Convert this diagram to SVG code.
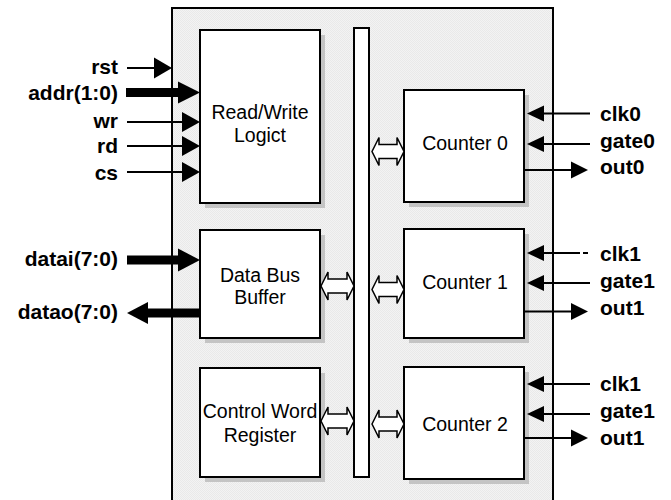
<svg xmlns="http://www.w3.org/2000/svg" width="671" height="500" viewBox="0 0 671 500">
<defs>
<pattern id="dither" width="2" height="2" patternUnits="userSpaceOnUse">
<rect width="2" height="2" fill="#f3f3f3"/>
<rect width="1" height="1" fill="#e9e9e9"/>
<rect x="1" y="1" width="1" height="1" fill="#e9e9e9"/>
</pattern>
<style>
.blk{fill:#fff;stroke:#000;stroke-width:2}
.shd{fill:#c4c4c4}
.t{font-family:"Liberation Sans",Arial,sans-serif;font-size:19.5px;fill:#000;text-anchor:middle}
.lbl{font-family:"Liberation Sans",Arial,sans-serif;font-size:21px;font-weight:bold;fill:#000}
.l{text-anchor:end}
.w{stroke:#000;stroke-width:2;fill:none}
.b{stroke:#000;stroke-width:9;fill:none}
.h{fill:#000}
.dbl{fill:#fff;stroke:#000;stroke-width:1.5;stroke-linejoin:miter}
</style>
</defs>
<rect width="671" height="500" fill="#fff"/>
<g id="chip">
<rect x="172" y="8" width="381" height="510" fill="url(#dither)" stroke="#000" stroke-width="2"/>
</g>
<g id="rw">
<rect class="shd" x="205" y="35" width="120" height="173"/>
<rect class="blk" x="200" y="30" width="120" height="173"/>
<text class="t" x="260" y="119">Read/Write</text>
<text class="t" x="260" y="141.5">Logict</text>
</g>
<g id="dbb">
<rect class="shd" x="205" y="235" width="120" height="108"/>
<rect class="blk" x="200" y="230" width="120" height="108"/>
<text class="t" x="260" y="281.5">Data Bus</text>
<text class="t" x="260" y="303.5">Buffer</text>
</g>
<g id="cwr">
<rect class="shd" x="205" y="373" width="120" height="109"/>
<rect class="blk" x="200" y="368" width="120" height="109"/>
<text class="t" x="260" y="418">Control Word</text>
<text class="t" x="260" y="441.5">Register</text>
</g>
<g id="bus">
<rect class="blk" x="354" y="28" width="15" height="449"/>
</g>
<g id="c0">
<rect class="shd" x="409" y="95" width="120" height="112"/>
<rect class="blk" x="404" y="90" width="120" height="112"/>
<text class="t" x="465" y="150">Counter 0</text>
</g>
<g id="c1">
<rect class="shd" x="409" y="234" width="120" height="109"/>
<rect class="blk" x="404" y="229" width="120" height="109"/>
<text class="t" x="465" y="289">Counter 1</text>
</g>
<g id="c2">
<rect class="shd" x="409" y="372" width="120" height="112"/>
<rect class="blk" x="404" y="367" width="120" height="112"/>
<text class="t" x="465" y="431">Counter 2</text>
</g>
<g id="connectors">
<!-- left inputs -->
<line class="w" x1="127" y1="68" x2="156" y2="68"/>
<polygon class="h" points="154,57.5 172,68 154,78.5"/>
<line class="b" x1="126" y1="92.5" x2="180" y2="92.5"/>
<polygon class="h" points="178,81.5 200,92.5 178,103.5"/>
<line class="w" x1="127" y1="122" x2="184" y2="122"/>
<polygon class="h" points="182,112 200,122 182,132"/>
<line class="w" x1="127" y1="146" x2="184" y2="146"/>
<polygon class="h" points="182,136 200,146 182,156"/>
<line class="w" x1="127" y1="172" x2="184" y2="172"/>
<polygon class="h" points="182,162 200,172 182,182"/>
<line class="b" x1="127" y1="260" x2="180" y2="260"/>
<polygon class="h" points="178,248.5 200,260 178,271.5"/>
<line class="b" x1="146" y1="313" x2="200" y2="313"/>
<polygon class="h" points="148,302 127,313 148,324"/>
<!-- bus double arrows -->
<path class="dbl" d="M321,286 L328,272 L328,279 L347,279 L347,272 L354,286 L347,300 L347,293 L328,293 L328,300 Z"/>
<path class="dbl" d="M321,421 L328,407 L328,414 L347,414 L347,407 L354,421 L347,435 L347,428 L328,428 L328,435 Z"/>
<path class="dbl" d="M372,151.5 L379,137.5 L379,144.5 L397,144.5 L397,137.5 L404,151.5 L397,165.5 L397,158.5 L379,158.5 L379,165.5 Z"/>
<path class="dbl" d="M372,289.5 L379,275.5 L379,282.5 L397,282.5 L397,275.5 L404,289.5 L397,303.5 L397,296.5 L379,296.5 L379,303.5 Z"/>
<path class="dbl" d="M372,424 L379,410 L379,417 L397,417 L397,410 L404,424 L397,438 L397,431 L379,431 L379,438 Z"/>
<!-- counter 0 -->
<line class="w" x1="541" y1="113.5" x2="590" y2="113.5"/>
<polygon class="h" points="544,105.5 527,113.5 544,121.5"/>
<line class="w" x1="541" y1="144" x2="590" y2="144"/>
<polygon class="h" points="544,136 527,144 544,152"/>
<line class="w" x1="524" y1="170" x2="573" y2="170"/>
<polygon class="h" points="571,161.5 588,170 571,178.5"/>
<!-- counter 1 -->
<line class="w" x1="541" y1="253" x2="580" y2="253"/>
<line class="w" x1="583" y1="253" x2="588" y2="253"/>
<polygon class="h" points="544,245 527,253 544,261"/>
<line class="w" x1="541" y1="283" x2="590" y2="283"/>
<polygon class="h" points="544,275 527,283 544,291"/>
<line class="w" x1="524" y1="311.5" x2="573" y2="311.5"/>
<polygon class="h" points="571,303 588,311.5 571,320"/>
<!-- counter 2 -->
<line class="w" x1="541" y1="384" x2="590" y2="384"/>
<polygon class="h" points="544,376 527,384 544,392"/>
<line class="w" x1="541" y1="414" x2="590" y2="414"/>
<polygon class="h" points="544,406 527,414 544,422"/>
<line class="w" x1="524" y1="438" x2="573" y2="438"/>
<polygon class="h" points="571,429.5 588,438 571,446.5"/>
</g>
<g id="labels">
<text class="lbl l" x="118" y="73.5">rst</text>
<text class="lbl l" x="118" y="100">addr(1:0)</text>
<text class="lbl l" x="118" y="127.5">wr</text>
<text class="lbl l" x="118" y="153">rd</text>
<text class="lbl l" x="118" y="180">cs</text>
<text class="lbl l" x="118" y="266">datai(7:0)</text>
<text class="lbl l" x="118" y="319">datao(7:0)</text>
<text class="lbl" x="600" y="120.5">clk0</text>
<text class="lbl" x="600" y="148">gate0</text>
<text class="lbl" x="600" y="174">out0</text>
<text class="lbl" x="600" y="260.5">clk1</text>
<text class="lbl" x="600" y="288">gate1</text>
<text class="lbl" x="600" y="315">out1</text>
<text class="lbl" x="600" y="390.5">clk1</text>
<text class="lbl" x="600" y="418">gate1</text>
<text class="lbl" x="600" y="445">out1</text>
</g>
</svg>
